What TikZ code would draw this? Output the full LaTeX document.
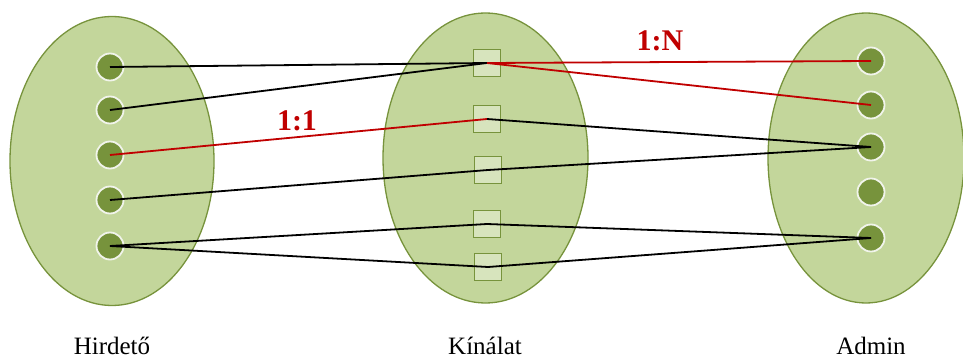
\documentclass[tikz,border=0pt]{standalone}
\usepackage{fontspec}
\setmainfont{Liberation Serif}
\usetikzlibrary{shapes.geometric}
\definecolor{setfill}{HTML}{C3D69B}
\definecolor{olive}{HTML}{77933C}
\definecolor{boxfill}{HTML}{D7E4BD}
\definecolor{relred}{HTML}{C00000}
\begin{document}
\begin{tikzpicture}[x=1pt,y=-1pt,
  setoval/.style={ellipse,draw=olive,fill=setfill,line width=1.3pt,inner sep=0pt},
  entity/.style={circle,fill=olive,draw=white!90!olive,line width=1.8pt,minimum size=27pt,inner sep=0pt},
  offer/.style={rectangle,fill=boxfill,draw=olive,line width=1.7pt,minimum size=27pt,inner sep=0pt},
  link/.style={black,line width=1.8pt},
  rel/.style={relred,line width=1.8pt},
  card/.style={text=relred,font=\bfseries\fontsize{30}{33}\selectfont},
  caption/.style={font=\fontsize{25}{28}\selectfont,anchor=base,inner sep=0pt}]
\useasboundingbox (0,0) rectangle (963,358);
% the three sets
\node[setoval,minimum width=204pt,minimum height=289pt] (hset) at (112,161) {};
\node[setoval,minimum width=205pt,minimum height=290pt] (kset) at (485.5,158) {};
\node[setoval,minimum width=196pt,minimum height=290pt] (aset) at (866,158) {};
% Hirdeto elements
\node[entity] (h1) at (110,67) {};
\node[entity] (h2) at (110,110) {};
\node[entity] (h3) at (110,155) {};
\node[entity] (h4) at (110,200) {};
\node[entity] (h5) at (110,246) {};
% Kinalat elements
\node[offer] (k1) at (487,63) {};
\node[offer] (k2) at (487,119) {};
\node[offer] (k3) at (488,170) {};
\node[offer] (k4) at (487,224) {};
\node[offer] (k5) at (488,267) {};
% Admin elements
\node[entity] (a1) at (871,61) {};
\node[entity] (a2) at (871,105) {};
\node[entity] (a3) at (871,147) {};
\node[entity] (a4) at (871,192) {};
\node[entity] (a5) at (871,238) {};
% connections
\draw[link] (h1.center) -- (k1.center);
\draw[link] (h2.center) -- (k1.center);
\draw[rel]  (h3.center) -- (k2.center);
\draw[link] (h4.center) -- (k3.center);
\draw[link] (h5.center) -- (k4.center);
\draw[link] (h5.center) -- (k5.center);
\draw[rel]  (k1.center) -- (a1.center);
\draw[rel]  (k1.center) -- (a2.center);
\draw[link] (k2.center) -- (a3.center);
\draw[link] (k3.center) -- (a3.center);
\draw[link] (k4.center) -- (a5.center);
\draw[link] (k5.center) -- (a5.center);
% cardinality labels
\node[card] (oneone) at (297,121) {1:1};
\node[card] (onemany) at (660,41) {1:N};
% set captions
\node[caption] (hcap) at (112,354) {Hirdető};
\node[caption] (kcap) at (485,354) {Kínálat};
\node[caption] (acap) at (871,354) {Admin};
\end{tikzpicture}
\end{document}
